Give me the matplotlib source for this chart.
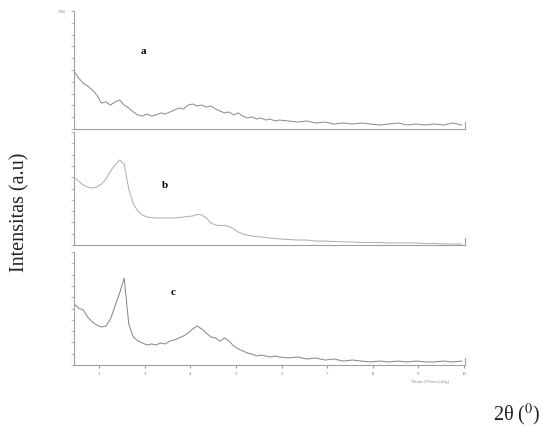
import matplotlib
matplotlib.use("Agg")
import matplotlib.pyplot as plt

plt.rcParams['font.family'] = ['Liberation Serif', 'DejaVu Serif']
plt.rcParams['mathtext.fontset'] = 'stix'

# 2-theta grid (deg)
tth = [1.45, 1.55, 1.65, 1.75, 1.85, 1.95, 2.05, 2.15, 2.25, 2.35,
       2.45, 2.55, 2.65, 2.75, 2.85, 2.95, 3.05, 3.15, 3.25, 3.35,
       3.45, 3.55, 3.65, 3.75, 3.85, 3.95, 4.05, 4.15, 4.25, 4.35,
       4.45, 4.55, 4.65, 4.75, 4.85, 4.95, 5.05, 5.15, 5.25, 5.35,
       5.45, 5.55, 5.65, 5.75, 5.85, 5.95, 6.15, 6.35, 6.55, 6.75,
       6.95, 7.15, 7.35, 7.55, 7.75, 7.95, 8.15, 8.35, 8.55, 8.75,
       8.95, 9.15, 9.35, 9.55, 9.75, 9.95]

int_a = [491, 432, 390, 364, 331, 288, 220, 229, 203, 229,
         246, 203, 178, 144, 119, 110, 127, 110, 119, 136,
         127, 144, 161, 178, 169, 203, 212, 195, 203, 186,
         195, 169, 153, 136, 144, 119, 136, 110, 93, 102,
         85, 93, 76, 85, 68, 76, 68, 59, 68, 51,
         59, 42, 51, 42, 51, 42, 34, 42, 51, 34,
         42, 34, 42, 34, 51, 34]

int_b = [602, 566, 531, 513, 504, 513, 540, 584, 655, 708,
         752, 717, 496, 363, 301, 265, 248, 243, 239, 239,
         239, 239, 239, 243, 248, 252, 257, 270, 265, 239,
         195, 177, 173, 173, 164, 142, 115, 97, 88, 80,
         75, 71, 66, 62, 58, 53, 49, 44, 44, 35,
         35, 31, 27, 27, 22, 22, 22, 18, 18, 18,
         18, 13, 13, 9, 9, 9]

int_c = [540, 504, 487, 425, 381, 354, 336, 345, 407, 522,
         637, 770, 363, 248, 212, 195, 177, 186, 177, 195,
         186, 212, 221, 239, 257, 283, 319, 345, 319, 283,
         248, 239, 212, 239, 212, 168, 142, 124, 106, 97,
         80, 88, 80, 71, 80, 71, 62, 71, 53, 62,
         44, 53, 35, 44, 35, 27, 35, 27, 35, 27,
         35, 27, 27, 35, 27, 35]

labels = ['a', 'b', 'c']
xticks = [2, 3, 4, 5, 6, 7, 8, 9, 10]

W, H = 544, 427
fig = plt.figure(figsize=(W / 100, H / 100), dpi=100)

# panel boxes in pixels: (top, bottom)
boxes = [(12, 130), (133, 246), (253, 366)]
x0, x1 = 74, 465
series = [int_a, int_b, int_c]
colors = ['#8f8f8f', '#b0b0b0', '#8a8a8a']
label_pos = [(143, 51), (165, 185), (173, 293)]

axes = []
for (top, bot), y, c in zip(boxes, series, colors):
    ax = fig.add_axes([x0 / W, 1 - bot / H, (x1 - x0) / W, (bot - top) / H])
    ax.plot(tth, y, color=c, lw=0.75)
    ax.set_xlim(1.45, 10.02)
    ax.set_ylim(0, 1000)
    ax.spines['top'].set_visible(False)
    for s in ['left', 'bottom', 'right']:
        ax.spines[s].set_color('#a0a0a0')
        ax.spines[s].set_linewidth(0.8)
    ax.spines['right'].set_bounds(0, 60)
    ax.set_yticks(range(0, 1001, 100))
    ax.tick_params(axis='y', length=2, color='#b8b8b8', labelleft=False)
    ax.set_xticks([])
    axes.append(ax)

axes[2].set_xticks(xticks)
axes[2].set_xticklabels([str(t) for t in xticks])
axes[2].tick_params(axis='x', length=2, color='#9a9a9a', labelsize=3.5,
                    labelcolor='#777777', pad=2)

for lab, (px, py) in zip(labels, label_pos):
    fig.text(px / W, 1 - py / H, lab, fontsize=8, fontweight='bold',
             ha='center', va='center')

fig.text(62 / W, 1 - 12 / H, '1000', fontsize=3, color='#888888',
         ha='center', va='center')
fig.text(430 / W, 1 - 382 / H, 'Theta-2Theta (deg)', fontsize=3.5,
         color='#888888', ha='center', va='center')

fig.text(20 / W, 1 - 212 / H, 'Intensitas (a.u)', rotation=90,
         fontsize=14.5, ha='center', va='center', color='#222222')
fig.text(517 / W, 1 - 415 / H, r'2θ ($^{0}$)', fontsize=14.5,
         ha='center', va='center', color='#222222')

fig.savefig('out.png', dpi=100)
